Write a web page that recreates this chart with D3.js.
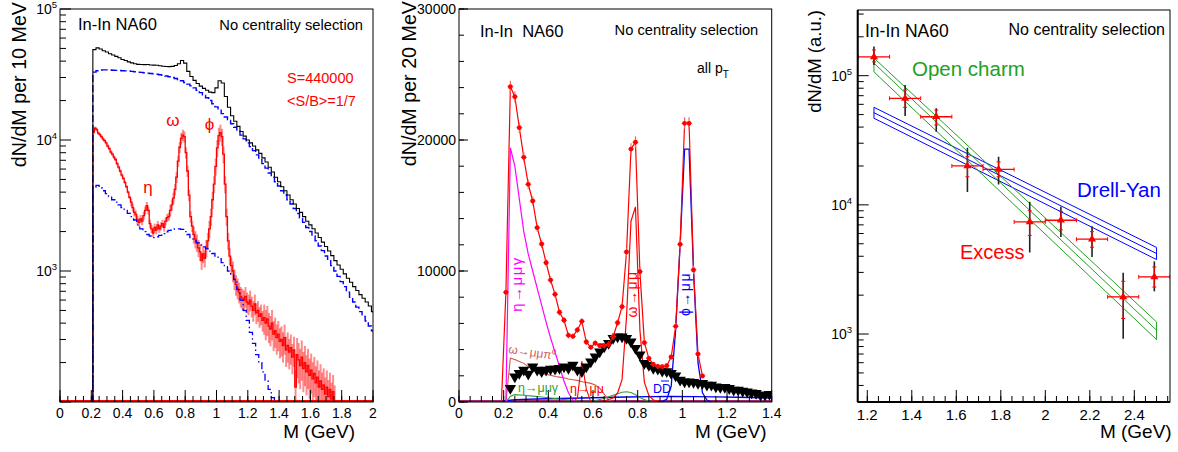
<!DOCTYPE html>
<html><head><meta charset="utf-8">
<script src="https://cdn.jsdelivr.net/npm/d3@7"></script>
<style>
body{margin:0;background:#fff}
svg{display:block}
text{font-family:"Liberation Sans",Arial,Helvetica,sans-serif}
</style></head>
<body><svg id="c" width="1178" height="452"></svg>
<script>
// ---------------- Panel 1 data (log scale, per 10 MeV) ----------------
const p1TotalStart = 0.21, p1TotalStep = 0.02;
const p1Total = [49000,50500,49500,48000,47000,45500,44500,43500,42500,41200,40400,39500,38800,38200,37800,37700,37600,37700,37400,37300,37200,36900,36600,36400,36300,36500,37000,38200,40400,38600,33400,30500,28500,27000,25800,24800,24000,23200,23000,25000,28300,27200,21500,17800,15300,13900,12700,11600,10700,10000,9500,9000,8400,7900,7300,6800,6200,5700,5200,4800,4400,4100,3800,3500,3250,3000,2800,2600,2400,2250,2100,1950,1800,1660,1540,1420,1310,1200,1110,1030,950,880,820,760,710,660,620,580,540,490];
const p1Comb = [33000,33800,34200,34300,34300,34200,34100,34000,33900,33800,33700,33600,33400,33200,33000,32800,32600,32400,32200,32000,31800,31500,31200,30800,30400,30000,29500,29000,28300,27500,26700,25900,25000,24000,23000,22000,21000,20000,18900,17900,16900,15900,15000,14100,13300,12500,11700,10900,10200,9500,8900,8300,7700,7100,6600,6100,5600,5200,4800,4450,4100,3800,3500,3250,3000,2750,2550,2350,2150,2000,1850,1700,1550,1430,1300,1200,1100,1000,910,830,760,690,630,580,530,490,450,415,380,350];
const p1Fake = [4300,4500,4300,4100,3900,3700,3500,3350,3200,3050,2900,2750,2600,2450,2250,2100,2000,1900,1850,1800,1820,1870,1930,1990,2040,2080,2100,2100,2080,2000,1900,1800,1700,1640,1580,1530,1480,1420,1360,1300,1240,1160,1080,1000,930,860,720,600,500,420,340,280,230,200,170,145,125,108,0];
const p1SigStart = 0.21, p1SigStep = 0.01;
const p1Signal = [11500,12300,12000,11300,11000,10600,10200,9900,9500,9000,8600,8100,7800,7400,7100,6600,6200,5800,5400,5100,4750,4400,4000,3650,3350,3050,2800,2700,2450,2350,2500,2400,2650,2900,3150,2900,2300,2100,1950,2150,2050,2250,2100,2200,2300,2150,2400,2550,2600,2900,3200,3600,4200,5200,6900,8800,10300,10900,10600,8000,5800,3800,2600,2200,1900,1750,1650,1500,1400,1200,1350,1250,1500,1700,2100,2600,3500,4600,6300,8700,10800,11400,10600,7800,4600,2600,1700,1300,1100,1000,870,790,740,690,640,620,600,640,580,560,600,540,500,560,480,500,450,470,420,440,400,430,380,360,400,330,350,310,330,290,300,270,310,250,270,240,260,220,250,130,230,210,190,220,180,200,170,190,160,175,150,165,140,155,130,145,125,135,115,130,110,125,105,120,100,0];
const p1ErrEdges = [0.21,0.45,0.70,0.85,1.10,1.30,1.50,1.80];
const p1RelErr  = [0.03,0.07,0.10,0.15,0.18,0.26,0.34];
const p1XTicks = [0,0.2,0.4,0.6,0.8,1,1.2,1.4,1.6,1.8,2];
const p1XLabels = ["0","0.2","0.4","0.6","0.8","1","1.2","1.4","1.6","1.8","2"];
const p1YDecades = [1000,10000,100000];

// ---------------- Panel 2 data (linear, per 20 MeV) ----------------
const p2DataM = [0.19,0.21,0.23,0.25,0.27,0.29,0.31,0.33,0.35,0.37,0.39,0.41,0.43,0.45,0.47,0.49,0.51,0.53,0.55,0.57,0.59,0.61,0.63,0.65,0.67,0.69,0.71,0.73,0.75,0.77,0.79,0.81,0.83,0.85,0.87,0.89,0.91,0.93,0.95,0.97,0.99,1.01,1.03,1.05,1.07,1.09];
const p2DataV = [0,8375,24070,23300,20940,18680,16620,15345,13310,12060,10630,9310,8220,6850,6240,5090,5015,5500,6160,4580,4175,4500,4300,4300,4400,4985,6050,7275,11450,19310,19830,9950,4530,3335,2875,2725,2700,2770,3435,5780,12040,21275,21275,10080,3660,1985];
const p2DataErr = [0,300,450,430,400,380,360,340,320,300,290,280,260,250,240,230,230,240,250,220,210,220,210,210,220,230,250,280,350,450,450,330,230,200,190,190,190,190,200,260,350,460,460,330,200,160];
const p2ExcM = [0.23,0.25,0.27,0.29,0.31,0.33,0.35,0.37,0.39,0.41,0.43,0.45,0.47,0.49,0.51,0.53,0.55,0.57,0.59,0.61,0.63,0.65,0.67,0.69,0.71,0.73,0.75,0.77,0.79,0.81,0.83,0.85,0.87,0.89,0.91,0.93,0.95,0.97,0.99,1.01,1.03,1.05,1.07,1.09,1.11,1.13,1.15,1.17,1.19,1.21,1.23,1.25,1.27,1.29,1.31,1.33,1.35,1.37,1.39];
const p2ExcV = [1045,1930,2190,2440,2140,2700,2440,2320,2440,2520,2520,2570,2700,2570,2820,2440,2320,2700,3080,3460,3840,4220,4480,4860,4985,4985,4860,4600,4100,3600,2950,2800,2570,2520,2370,2320,2190,2010,1680,1550,1550,1500,1430,1430,1300,1300,1170,1120,1120,1040,910,910,830,780,700,660,530,530,600];
const etaDalM = [0.21,0.23,0.25,0.27,0.29,0.31,0.33,0.35,0.37,0.39,0.41,0.43,0.45,0.47,0.49,0.51,0.53];
const etaDalV = [0,19400,18000,15500,13000,11300,10000,8700,7400,6100,4900,3800,2700,1600,700,150,0];
const omDalM = [0.21,0.23,0.25,0.27,0.29,0.31,0.33,0.35,0.37,0.39,0.41,0.43,0.45,0.47,0.49,0.51,0.53,0.55,0.57,0.59,0.61,0.63,0.65,0.67,0.69];
const omDalV = [0,3350,3250,3100,2950,2700,2500,2300,2200,2100,2050,1950,1900,1850,1750,1700,1650,1550,1500,1420,1300,1050,600,150,0];
const etaGamM = [0.21,0.23,0.25,0.29,0.33,0.37,0.41,0.45,0.49,0.53,0.57,0.61,0.65,0.69,0.73,0.75,0.77,0.79,0.81,0.83,0.85,0.89];
const etaGamV = [0,450,560,520,450,380,300,220,150,80,60,100,280,520,740,780,720,560,350,180,60,0];
const etaMuM = [0.51,0.53,0.55,0.57,0.59];
const etaMuV = [0,300,3100,1000,0];
const omMuM = [0.61,0.65,0.69,0.71,0.73,0.75,0.77,0.79,0.81,0.83,0.85,0.87,0.91];
const omMuV = [0,80,300,700,1700,6500,13800,14900,5500,1500,500,150,0];
const phiMuM = [0.89,0.91,0.93,0.95,0.97,0.99,1.01,1.03,1.05,1.07,1.09,1.11,1.13];
const phiMuV = [0,50,200,1200,5500,12000,19300,19300,10000,3000,700,150,0];
const ddM = [0.19,0.21,0.25,0.35,0.45,0.55,0.65,0.75,0.85,0.95,1.05,1.15,1.25,1.35,1.40];
const ddV = [0,100,180,230,270,300,340,380,410,420,410,390,360,320,300];
const p2XTicks = [0,0.2,0.4,0.6,0.8,1,1.2,1.4];
const p2XLabels = ["0","0.2","0.4","0.6","0.8","1","1.2","1.4"];
const p2YTicks = [0,10000,20000,30000];

// ---------------- Panel 3 data (log) ----------------
const p3M = [1.23,1.37,1.51,1.65,1.79,1.93,2.07,2.21,2.35,2.49];
const p3HalfW = [0.07,0.07,0.07,0.07,0.07,0.07,0.07,0.07,0.07,0.07];
const p3V = [140000,66800,48100,20000,18800,7380,7600,5420,1940,2770];
const p3SysLo = [121000,48700,36800,12600,14400,4280,5650,3950,920,2140];
const p3SysHi = [168000,84700,55900,27700,23600,10550,9660,6840,2980,3650];
const p3StatLo = [128000,56900,41500,16500,16500,5800,6400,4700,1320,2310];
const p3StatHi = [158000,77400,54200,23600,21500,9000,8900,6200,2560,3300];
const bandM = [1.23,2.5];
const charmHi = [137000,1240], charmMid = [125000,1070], charmLo = [107000,906];
const dyHi = [56900,4680], dyMid = [51700,4200], dyLo = [46800,3770];
const p3XTicks = [1.2,1.4,1.6,1.8,2,2.2,2.4];
const p3XLabels = ["1.2","1.4","1.6","1.8","2","2.2","2.4"];
const p3YDecades = [1000,10000,100000];

// ---------------- drawing ----------------
const svg = d3.select('#c');
const defs = svg.append('defs');

function clip(id, x0, x1, y0, y1){
  defs.append('clipPath').attr('id', id).append('rect')
    .attr('x', x0).attr('y', y0).attr('width', x1 - x0).attr('height', y1 - y0);
}
function frame(g, x0, x1, y0, y1, w){
  g.append('rect').attr('x', x0).attr('y', y0).attr('width', x1 - x0).attr('height', y1 - y0)
   .attr('fill', 'none').attr('stroke', '#000').attr('stroke-width', w || 1);
}
function tick(g, x1, y1, x2, y2){
  g.append('line').attr('x1', x1).attr('y1', y1).attr('x2', x2).attr('y2', y2)
   .attr('stroke', '#000').attr('stroke-width', 1);
}
function xAxis(g, x, yb, majors, labels, minorStep, fs, labY){
  const [d0, d1] = x.domain();
  const n = Math.round((d1 - d0) / minorStep) + 2;
  for (let i = -1; i < n; i++){
    const v = Math.round((Math.ceil(d0 / minorStep) + i) * minorStep * 1000) / 1000;
    if (v < d0 - 1e-9 || v > d1 + 1e-9) continue;
    tick(g, x(v), yb, x(v), yb - 6);
  }
  majors.forEach((v, i) => {
    tick(g, x(v), yb, x(v), yb - 12);
    g.append('text').attr('x', x(v)).attr('y', labY).attr('text-anchor', 'middle')
     .attr('font-size', fs).text(labels[i]);
  });
}
function yLogAxis(g, y, xl, decades, fs, labX){
  const [d0, d1] = y.domain();
  const lo = Math.floor(Math.log10(d0)), hi = Math.ceil(Math.log10(d1));
  for (let e = lo; e <= hi; e++){
    for (let k = 1; k <= 9; k++){
      const v = k * Math.pow(10, e);
      if (v < d0 * 0.999 || v > d1 * 1.001) continue;
      tick(g, xl, y(v), xl + (k === 1 ? 11 : 6), y(v));
    }
  }
  decades.forEach(v => {
    const t = g.append('text').attr('x', labX).attr('y', y(v) + 5).attr('text-anchor', 'end').attr('font-size', fs);
    t.append('tspan').text('10');
    t.append('tspan').attr('dy', -6).attr('font-size', fs * 0.68).text(String(Math.round(Math.log10(v))));
  });
}
function txt(g, x, y, s, fs, col, anchor){
  return g.append('text').attr('x', x).attr('y', y).attr('font-size', fs)
    .attr('fill', col || '#000').attr('text-anchor', anchor || 'start').text(s);
}
function yTitle(g, x, yEnd, s, fs){
  g.append('text').attr('transform', `translate(${x},${yEnd}) rotate(-90)`)
   .attr('text-anchor', 'end').attr('font-size', fs).text(s);
}

// ===== Panel 1 =====
{
  const L = 60, R = 373, T = 9, B = 402;
  const x = d3.scaleLinear().domain([0, 2]).range([L, R]);
  const y = d3.scaleLog().domain([100, 100000]).range([B, T]).clamp(true);
  const yv = v => y(Math.max(v, 100));
  clip('c1', L, R, T, B);
  const g = svg.append('g');
  const pg = g.append('g').attr('clip-path', 'url(#c1)');

  const stepLine = d3.line().x(d => x(d[0])).y(d => yv(d[1])).curve(d3.curveStepAfter);
  function histPts(start, step, vals){
    const pts = [[start, 0]];
    vals.forEach((v, i) => pts.push([start + i * step, v]));
    pts.push([start + vals.length * step, vals[vals.length - 1]]);
    pts.push([start + vals.length * step, 0]);
    return pts;
  }
  pg.append('line').attr('x1', x(0)).attr('x2', x(2)).attr('y1', yv(0) - 1).attr('y2', yv(0) - 1)
    .attr('stroke', '#ff0000').attr('stroke-width', 2);

  const errG = pg.append('g');
  p1Signal.forEach((v, i) => {
    if (v <= 0) return;
    const m = p1SigStart + (i + 0.5) * p1SigStep;
    let k = 0; while (k < p1RelErr.length - 1 && m > p1ErrEdges[k + 1]) k++;
    const e = p1RelErr[k] * v;
    errG.append('line').attr('x1', x(m)).attr('x2', x(m)).attr('y1', yv(v - e)).attr('y2', yv(v + e))
      .attr('stroke', '#ff0000').attr('stroke-opacity', 0.45).attr('stroke-width', 2);
  });
  pg.append('path').attr('d', stepLine(histPts(p1SigStart, p1SigStep, p1Signal)))
    .attr('fill', 'none').attr('stroke', '#ff0000').attr('stroke-width', 1.3);
  pg.append('path').attr('d', stepLine(histPts(p1TotalStart, p1TotalStep, p1Fake)))
    .attr('fill', 'none').attr('stroke', '#0000ff').attr('stroke-width', 1.3).attr('stroke-dasharray', '7,3,1.5,3');
  pg.append('path').attr('d', stepLine(histPts(p1TotalStart, p1TotalStep, p1Comb)))
    .attr('fill', 'none').attr('stroke', '#0000ff').attr('stroke-width', 1.4).attr('stroke-dasharray', '7,3');
  pg.append('path').attr('d', stepLine(histPts(p1TotalStart, p1TotalStep, p1Total)))
    .attr('fill', 'none').attr('stroke', '#000').attr('stroke-width', 1.1);

  frame(g, L, R, T, B);
  xAxis(g, x, B, p1XTicks, p1XLabels, 0.05, 14, 418);
  yLogAxis(g, y, L, p1YDecades, 14, 57);
  yTitle(g, 26, 2, 'dN/dM per 10 MeV', 19.7);
  txt(g, 355, 438, 'M (GeV)', 19, '#000', 'end');
  txt(g, 78, 30, 'In-In NA60', 16.5);
  txt(g, 363, 29.5, 'No centrality selection', 14.7, '#000', 'end');
  txt(g, 287, 83, 'S=440000', 14.5, '#ff0000');
  txt(g, 287, 106, '<S/B>=1/7', 14.5, '#ff0000');
  txt(g, 173, 126, 'ω', 17, '#ff0000', 'middle');
  txt(g, 209.5, 130, 'ϕ', 17, '#ff0000', 'middle');
  txt(g, 148, 193, 'η', 17, '#ff0000', 'middle');
}

// ===== Panel 2 =====
{
  const L = 459, R = 771.7, T = 9, B = 402;
  const x = d3.scaleLinear().domain([0, 1.4]).range([L, R]);
  const y = d3.scaleLinear().domain([0, 30000]).range([B, T]);
  clip('c2', L, R, T, B);
  const g = svg.append('g');
  const pg = g.append('g').attr('clip-path', 'url(#c2)');
  const ln = d3.line().x(d => x(d[0])).y(d => y(d[1]));
  const zipc = (a, b) => a.map((m, i) => [m, b[i]]);
  function curve(ms, vs, col, w){
    pg.append('path').attr('d', ln(zipc(ms, vs))).attr('fill', 'none').attr('stroke', col).attr('stroke-width', w || 1.1);
  }
  pg.append('line').attr('x1', x(0)).attr('x2', x(1.4)).attr('y1', y(0) - 1).attr('y2', y(0) - 1)
    .attr('stroke', '#a0286e').attr('stroke-width', 2.2);
  curve(ddM, ddV, '#0000ff', 1.4);
  curve(etaGamM, etaGamV, '#33a033', 1.1);
  curve(omDalM, omDalV, '#cc5a4a', 1.1);
  curve(etaMuM, etaMuV, '#ff0000', 1.1);
  curve(etaDalM, etaDalV, '#ff00ff', 1.2);
  curve(omMuM, omMuV, '#ff0000', 1.2);
  curve(phiMuM, phiMuV, '#0000ff', 1.3);

  const tri = d3.symbol().type(d3.symbolTriangle).size(55);
  pg.append('g').selectAll('path').data(zipc(p2ExcM, p2ExcV)).join('path')
    .attr('d', tri).attr('transform', d => `translate(${x(d[0])},${y(d[1])}) rotate(180)`)
    .attr('fill', '#000');

  const dpts = zipc(p2DataM, p2DataV);
  pg.append('path').attr('d', ln(dpts)).attr('fill', 'none').attr('stroke', '#ff0000').attr('stroke-width', 1.2);
  const dg = pg.append('g');
  dpts.forEach((d, i) => {
    if (d[1] <= 0) return;
    const e = p2DataErr[i];
    dg.append('line').attr('x1', x(d[0])).attr('x2', x(d[0])).attr('y1', y(d[1] - e)).attr('y2', y(d[1] + e))
      .attr('stroke', '#ff6060').attr('stroke-width', 1.2);
    dg.append('line').attr('x1', x(d[0]) - 3).attr('x2', x(d[0]) + 3).attr('y1', y(d[1])).attr('y2', y(d[1]))
      .attr('stroke', '#ff6060').attr('stroke-width', 1);
    dg.append('circle').attr('cx', x(d[0])).attr('cy', y(d[1])).attr('r', 2.4).attr('fill', '#ff0000');
  });

  frame(g, L, R, T, B);
  xAxis(g, x, B, p2XTicks, p2XLabels, 0.05, 14, 418);
  for (let v = 0; v <= 30000; v += 2000) tick(g, L, y(v), L + 5, y(v));
  p2YTicks.forEach(v => {
    tick(g, L, y(v), L + 9, y(v));
    txt(g, L - 3, y(v) + 5, String(v), 14, '#000', 'end');
  });
  yTitle(g, 416, 1, 'dN/dM per 20 MeV', 19.7);
  txt(g, 766.7, 438, 'M (GeV)', 19, '#000', 'end');
  txt(g, 480, 36.5, 'In-In  NA60', 16.5).attr('xml:space', 'preserve').style('white-space', 'pre');
  txt(g, 758.3, 35, 'No centrality selection', 14.7, '#000', 'end');
  const ap = txt(g, 697, 73, 'all p', 14);
  ap.append('tspan').attr('dy', 5).attr('font-size', 10).text('T');
  function rlab(cx, cy, s, col, fs){
    g.append('text').attr('transform', `translate(${cx},${cy}) rotate(-90)`).attr('text-anchor', 'middle')
     .attr('font-size', fs).attr('fill', col).attr('letter-spacing', 1.5).text(s);
  }
  rlab(522, 284, 'η→μμγ', '#ff00ff', 15);
  rlab(637, 294, 'ω→μμ', '#ff0000', 14);
  rlab(690, 294, 'ϕ→μμ', '#0000ff', 14);
  txt(g, 508, 353, 'ω→μμπ⁰', 12, '#cc6060').attr('transform', 'rotate(8,508,353)');
  txt(g, 518, 392, 'η→μμγ', 12.5, '#33a033');
  txt(g, 570, 393, 'η→μμ', 12.5, '#ff0000');
  txt(g, 653, 393, 'DD', 12.5, '#0000ff');
  g.append('line').attr('x1', 661).attr('x2', 669).attr('y1', 381).attr('y2', 381).attr('stroke', '#0000ff').attr('stroke-width', 1);
}

// ===== Panel 3 =====
{
  const L = 857.7, R = 1170, T = 10, B = 402;
  const x = d3.scaleLinear().domain([1.1569, 2.5604]).range([L, R]);
  const y = d3.scaleLog().domain([297.7, 322500]).range([B, T]);
  clip('c3', L, R, T, B);
  const g = svg.append('g');
  const pg = g.append('g').attr('clip-path', 'url(#c3)');
  const ln = d3.line().x(d => x(d[0])).y(d => y(d[1]));
  function band(hi, mid, lo, col){
    const path = [[bandM[0], hi[0]], [bandM[1], hi[1]], [bandM[1], lo[1]], [bandM[0], lo[0]], [bandM[0], hi[0]]];
    pg.append('path').attr('d', ln(path)).attr('fill', 'none').attr('stroke', col).attr('stroke-width', 1);
    pg.append('path').attr('d', ln([[bandM[0], mid[0]], [bandM[1], mid[1]]])).attr('fill', 'none').attr('stroke', col).attr('stroke-width', 1);
  }
  band(dyHi, dyMid, dyLo, '#0000ff');
  band(charmHi, charmMid, charmLo, '#22a022');
  const eg = pg.append('g');
  p3M.forEach((m, i) => {
    eg.append('line').attr('x1', x(m)).attr('x2', x(m)).attr('y1', y(p3SysLo[i])).attr('y2', y(p3SysHi[i]))
      .attr('stroke', '#222').attr('stroke-width', 1.6);
  });
  p3M.forEach((m, i) => {
    const xl = x(m - p3HalfW[i]), xr = x(m + p3HalfW[i]), yy = y(p3V[i]);
    eg.append('line').attr('x1', xl).attr('x2', xr).attr('y1', yy).attr('y2', yy).attr('stroke', '#ff0000').attr('stroke-width', 1.3);
    eg.append('line').attr('x1', xl).attr('x2', xl).attr('y1', yy - 2).attr('y2', yy + 2).attr('stroke', '#ff0000').attr('stroke-width', 1);
    eg.append('line').attr('x1', xr).attr('x2', xr).attr('y1', yy - 2).attr('y2', yy + 2).attr('stroke', '#ff0000').attr('stroke-width', 1);
    const ys0 = y(p3StatLo[i]), ys1 = y(p3StatHi[i]);
    eg.append('line').attr('x1', x(m)).attr('x2', x(m)).attr('y1', ys0).attr('y2', ys1).attr('stroke', '#ff0000').attr('stroke-width', 1.1).attr('stroke-opacity', 0.85);
    [ys0, ys1].forEach(yc => eg.append('line').attr('x1', x(m) - 2).attr('x2', x(m) + 2).attr('y1', yc).attr('y2', yc).attr('stroke', '#ff0000').attr('stroke-width', 1));
  });
  const tri = d3.symbol().type(d3.symbolTriangle).size(28);
  pg.append('g').selectAll('path').data(p3M.map((m, i) => [m, p3V[i]])).join('path')
    .attr('d', tri).attr('transform', d => `translate(${x(d[0])},${y(d[1])})`).attr('fill', '#ff0000');

  frame(g, L, R, T, B);
  g.append('line').attr('x1', L).attr('x2', L).attr('y1', T).attr('y2', B).attr('stroke', '#000').attr('stroke-width', 2);
  g.append('line').attr('x1', L).attr('x2', R).attr('y1', B).attr('y2', B).attr('stroke', '#000').attr('stroke-width', 2);
  xAxis(g, x, B, p3XTicks, p3XLabels, 0.05, 15, 420);
  yLogAxis(g, y, L, p3YDecades, 14, 852);
  yTitle(g, 821, 10, 'dN/dM (a.u.)', 18.5);
  txt(g, 1171.7, 438, 'M (GeV)', 19, '#000', 'end');
  txt(g, 865, 36.5, 'In-In NA60', 17.5);
  txt(g, 1165, 35, 'No centrality selection', 16, '#000', 'end');
  txt(g, 912, 76, 'Open charm', 20.5, '#22a022');
  txt(g, 1077, 197, 'Drell-Yan', 20.5, '#0000ff');
  txt(g, 960, 259, 'Excess', 20, '#ff0000');
}
</script>
</body></html>
